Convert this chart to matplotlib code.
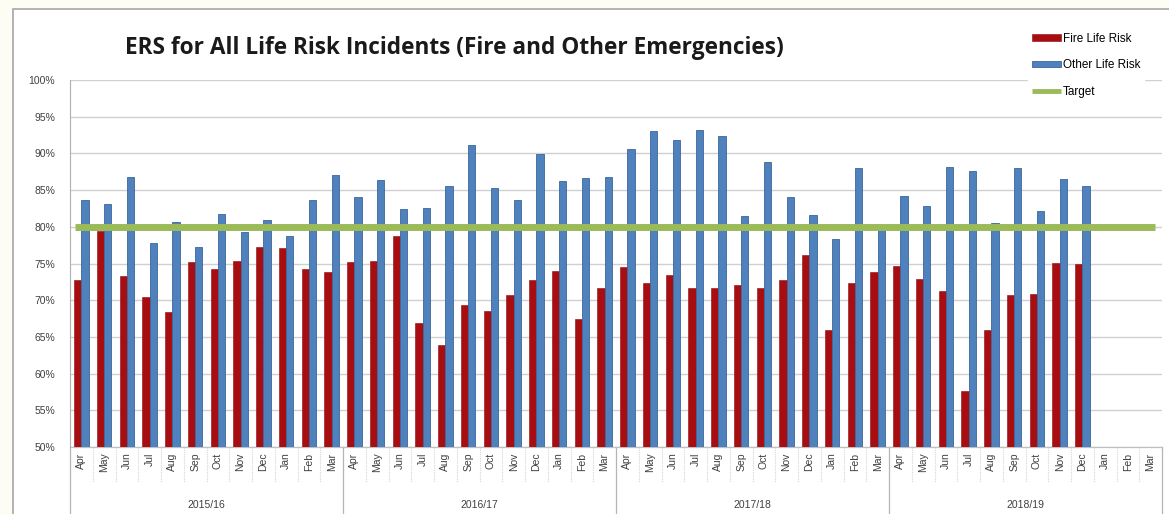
import matplotlib.pyplot as plt
import numpy as np
from matplotlib.patches import Rectangle
from matplotlib.lines import Line2D

# monthly values, Apr 2015 - Mar 2019 (Jan-Mar 2019 not reported yet)
months = ["Apr", "May", "Jun", "Jul", "Aug", "Sep", "Oct", "Nov", "Dec", "Jan", "Feb", "Mar"]
years = ["2015/16", "2016/17", "2017/18", "2018/19"]

fire_life_risk = [
    72.7, 79.4, 73.3, 70.4, 68.4, 75.2, 74.2, 75.4, 77.2, 77.1, 74.2, 73.9,
    75.2, 75.3, 78.8, 66.9, 63.9, 69.4, 68.5, 70.7, 72.8, 74.0, 67.5, 71.7,
    74.5, 72.4, 73.4, 71.7, 71.6, 72.1, 71.7, 72.7, 76.2, 65.9, 72.3, 73.9,
    74.6, 72.9, 71.2, 57.6, 66.0, 70.7, 70.8, 75.1, 74.9, np.nan, np.nan, np.nan,
]
other_life_risk = [
    83.6, 83.1, 86.8, 77.8, 80.6, 77.3, 81.7, 79.3, 80.9, 78.8, 83.7, 87.0,
    84.1, 86.4, 82.4, 82.6, 85.5, 91.2, 85.3, 83.6, 89.9, 86.2, 86.7, 86.8,
    90.6, 93.1, 91.8, 93.2, 92.4, 81.5, 88.8, 84.1, 81.6, 78.4, 88.0, 79.6,
    84.2, 82.8, 88.2, 87.6, 80.5, 88.0, 82.1, 86.5, 85.6, np.nan, np.nan, np.nan,
]
target = 80

month_labels = months * len(years)
x = np.arange(len(month_labels))

fig = plt.figure(figsize=(11.69, 5.14), dpi=100)
fig.patch.set_facecolor("#fdfdf3")
# white chart area with grey border, like the Excel chart frame
fig.patches.append(Rectangle((13 / 1169, -0.01), 1.0, 1 - 9 / 514 + 0.01,
                             transform=fig.transFigure, facecolor="white",
                             edgecolor="#a6a6a6", linewidth=1.2, zorder=-10))

ax = fig.add_axes([70 / 1169, 1 - 447 / 514, (1162 - 70) / 1169, (447 - 80) / 514])
ax.set_facecolor("white")

w = 0.31
b1 = ax.bar(x - 0.16, fire_life_risk, width=w, color="#a80d12", edgecolor="#8c0a0d",
            linewidth=0.4, label="Fire Life Risk", zorder=3)
b2 = ax.bar(x + 0.16, other_life_risk, width=w, color="#4f81bd", edgecolor="#3b679c",
            linewidth=0.6, label="Other Life Risk", zorder=3)
ln, = ax.plot([-0.3, len(x) - 0.8], [target, target], color="#9bbb59", linewidth=5,
              label="Target", zorder=4, solid_capstyle="butt")

ax.set_xlim(-0.5, len(x) - 0.5)
ax.set_ylim(50, 100)
yt = np.arange(50, 101, 5)
ax.set_yticks(yt)
ax.set_yticklabels([f"{v}%" for v in yt], fontsize=7.5, color="#404040",
                   family="Liberation Sans")
ax.yaxis.grid(True, color="#d0d0d0", linewidth=1.0, zorder=0)
ax.tick_params(axis="y", length=0, pad=10.8)

ax.set_xticks(x)
ax.set_xticklabels(month_labels, rotation=90, fontsize=7.5, color="#404040",
                   family="Liberation Sans")
ax.tick_params(axis="x", length=0, pad=4)

for side in ["top", "right", "bottom"]:
    ax.spines[side].set_visible(False)
ax.spines["left"].set_color("#b0b0b0")

# two-level category axis: month boxes and year groups
tr = ax.get_xaxis_transform()
for i in range(len(x) + 1):
    if i % 12 == 0:
        ax.add_line(Line2D([i - 0.5, i - 0.5], [0, -0.19], transform=tr,
                           color="#b5b5b5", linewidth=0.9, clip_on=False))
    else:
        ax.add_line(Line2D([i - 0.5, i - 0.5], [0, -0.095], transform=tr,
                           color="#d5d5d5", linewidth=0.8, linestyle=(0, (1, 1)),
                           clip_on=False))
ax.add_line(Line2D([-0.5, len(x) - 0.5], [0, 0], transform=tr,
                   color="#c0c0c0", linewidth=0.9, clip_on=False))
for k, yr in enumerate(years):
    ax.text(k * 12 + 5.5, -0.158, yr, transform=tr, ha="center", va="center",
            fontsize=7.5, color="#404040", family="Liberation Sans")

fig.text(0.389, 0.906, "ERS for All Life Risk Incidents (Fire and Other Emergencies)",
         ha="center", va="center", fontsize=16.3, fontweight="bold",
         family="Open Sans", color="#1a1a1a")

leg = ax.legend([b1, b2, ln], ["Fire Life Risk", "Other Life Risk", "Target"],
                loc="upper left", bbox_to_anchor=(1028 / 1169, 1 - 29 / 514),
                bbox_transform=fig.transFigure, frameon=True,
                handlelength=2.5, handleheight=0.45, handletextpad=0.15,
                labelspacing=1.25, borderaxespad=0, borderpad=0.3,
                prop={"family": "Liberation Sans", "size": 8.5})
leg.get_frame().set_facecolor("white")
leg.get_frame().set_edgecolor("white")
leg.get_frame().set_alpha(1)
leg.get_lines()[0].set_linewidth(3.5)

fig.savefig("out.png", dpi=100, facecolor=fig.get_facecolor())
